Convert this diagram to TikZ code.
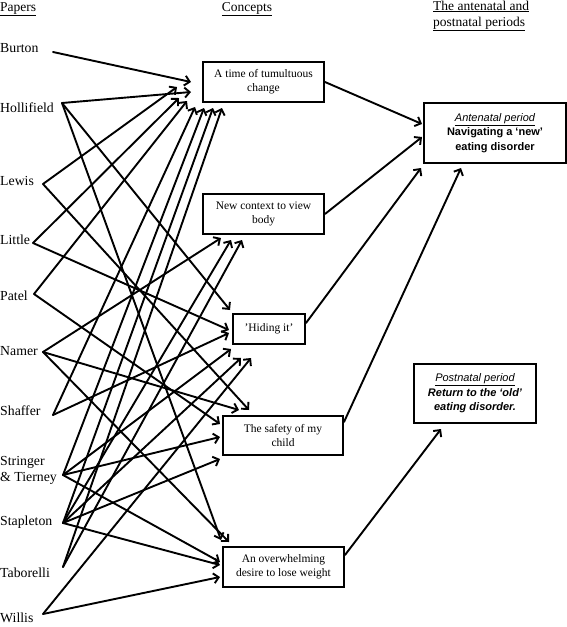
\documentclass[tikz,border=0pt]{standalone}
\usepackage{fontspec}
\setmainfont{Liberation Serif}
\newfontfamily\arialfont{Liberation Sans}
\usetikzlibrary{arrows.meta}
\begin{document}
\begin{tikzpicture}[x=1pt,y=-1pt,
  conn/.style={line width=1.9pt,line cap=round,-{Straight Barb[length=5pt,width=10pt,line width=1.9pt]}},
  box/.style={draw,line width=2pt,align=center,inner sep=2pt,font=\fontsize{11.5}{14}\selectfont},
  periodbox/.style={draw,line width=2pt,align=center,inner sep=2pt,font=\arialfont\fontsize{11}{14.5}\selectfont},
  paper/.style={anchor=west,inner sep=0pt,align=left,font=\fontsize{13.8}{16}\selectfont},
  header/.style={inner sep=0pt,align=left,font=\fontsize{13.5}{16}\selectfont},
]
\useasboundingbox (0,0) rectangle (567,627);

% headers
\node[header,anchor=base west] (hpap) at (0,11) {\underline{Papers}};
\node[header,anchor=base] (hcon) at (247,11) {\underline{Concepts}};
\node[header,anchor=north west] (hper) at (433,0.5) {\underline{The antenatal and}\\\underline{postnatal periods}};

% papers
\node[paper] (Burton) at (0,48) {Burton};
\node[paper] (Hollifield) at (0,108) {Hollifield};
\node[paper] (Lewis) at (0,181) {Lewis};
\node[paper] (Little) at (0,240) {Little};
\node[paper] (Patel) at (0,296) {Patel};
\node[paper] (Namer) at (0,351) {Namer};
\node[paper] (Shaffer) at (0,411) {Shaffer};
\node[paper] (Stringer) at (0,470) {Stringer\\\& Tierney};
\node[paper] (Stapleton) at (0,522) {Stapleton};
\node[paper] (Taborelli) at (0,573) {Taborelli};
\node[paper] (Willis) at (0,617.5) {Willis};

\coordinate (bur) at (53,52);
\coordinate (hol) at (62,103);
\coordinate (lew) at (43,184);
\coordinate (lit) at (33,243);
\coordinate (pat) at (34,294);
\coordinate (nam) at (43,352);
\coordinate (sha) at (53,415);
\coordinate (str) at (63,475);
\coordinate (sta) at (63,523);
\coordinate (tab) at (63,567);
\coordinate (wil) at (43,614);

% concepts
\node[box,minimum width=121pt,minimum height=40pt] (T) at (263.5,82) {A time of tumultuous\\change};
\node[box,minimum width=121pt,minimum height=40pt] (N) at (263.5,214) {New context to view\\body};
\node[box,minimum width=72pt,minimum height=30pt] (H) at (269,329) {’Hiding it’};
\node[box,minimum width=120pt,minimum height=39pt] (S) at (283,435.5) {The safety of my\\child};
\node[box,minimum width=121pt,minimum height=40pt] (O) at (283.5,567) {An overwhelming\\desire to lose weight};

% periods
\node[periodbox,minimum width=142pt,minimum height=60pt] (A) at (495,133)
  {\underline{\itshape Antenatal period}\\\bfseries Navigating a ‘new’\\\bfseries eating disorder};
\node[periodbox,minimum width=122pt,minimum height=59pt] (P) at (475,393.5)
  {\underline{\itshape Postnatal period}\\\bfseries\itshape Return to the ‘old’\\\bfseries\itshape eating disorder.};

% papers -> tumultuous change
\draw[conn] (bur) -- ([shift={(-11,0)}]T.west);
\draw[conn] (hol) -- ([shift={(-11,10)}]T.west);
\draw[conn] (lew) -- ([shift={(-25,5)}]T.west);
\draw[conn] (lit) -- ([shift={(-23,-5)}]T.south west);
\draw[conn] (pat) -- ([shift={(-15,-2)}]T.south west);
\draw[conn] (sha) -- ([shift={(-7,4)}]T.south west);
\draw[conn] (str) -- ([shift={(2,5)}]T.south west);
\draw[conn] (sta) -- ([shift={(11,5)}]T.south west);
\draw[conn] (tab) -- ([shift={(20,5)}]T.south west);

% -> new context
\draw[conn] (nam) -- ([shift={(19,3)}]N.south west);
\draw[conn] (sta) -- ([shift={(29,5)}]N.south west);
\draw[conn] (tab) -- ([shift={(40,5)}]N.south west);

% -> hiding it
\draw[conn] (hol) -- ([shift={(-2,-3)}]H.north west);
\draw[conn] (lit) -- ([shift={(-3,1)}]H.west);
\draw[conn] (sha) -- ([shift={(-3,4)}]H.west);
\draw[conn] (str) -- ([shift={(-1,4)}]H.south west);
\draw[conn] (sta) -- ([shift={(9,13)}]H.south west);
\draw[conn] (wil) -- ([shift={(19,13)}]H.south west);

% -> safety of my child
\draw[conn] (nam) -- ([shift={(17,-5)}]S.north west);
\draw[conn] (lew) -- ([shift={(27,-5)}]S.north west);
\draw[conn] (pat) -- ([shift={(-2,9)}]S.north west);
\draw[conn] (str) -- ([shift={(-2,22)}]S.north west);
\draw[conn] (sta) -- ([shift={(-2,3)}]S.south west);

% -> overwhelming desire
\draw[conn] (hol) -- ([shift={(-1,-6)}]O.north west);
\draw[conn] (nam) -- ([shift={(7,-4)}]O.north west);
\draw[conn] (str) -- ([shift={(-2,16)}]O.north west);
\draw[conn] (sta) -- ([shift={(-2,19)}]O.north west);
\draw[conn] (wil) -- ([shift={(-2,31)}]O.north west);

% concepts -> periods
\draw[conn] (T.east) -- ([shift={(-1,-9)}]A.west);
\draw[conn] (N.east) -- ([shift={(-1,4)}]A.west);
\draw[conn] ([shift={(0,-6)}]H.east) -- ([shift={(-2,4)}]A.south west);
\draw[conn] ([shift={(0,7)}]S.north east) -- ([shift={(38,4)}]A.south west);
\draw[conn] ([shift={(0,-12)}]O.east) -- ([shift={(28,5)}]P.south west);
\end{tikzpicture}
\end{document}
